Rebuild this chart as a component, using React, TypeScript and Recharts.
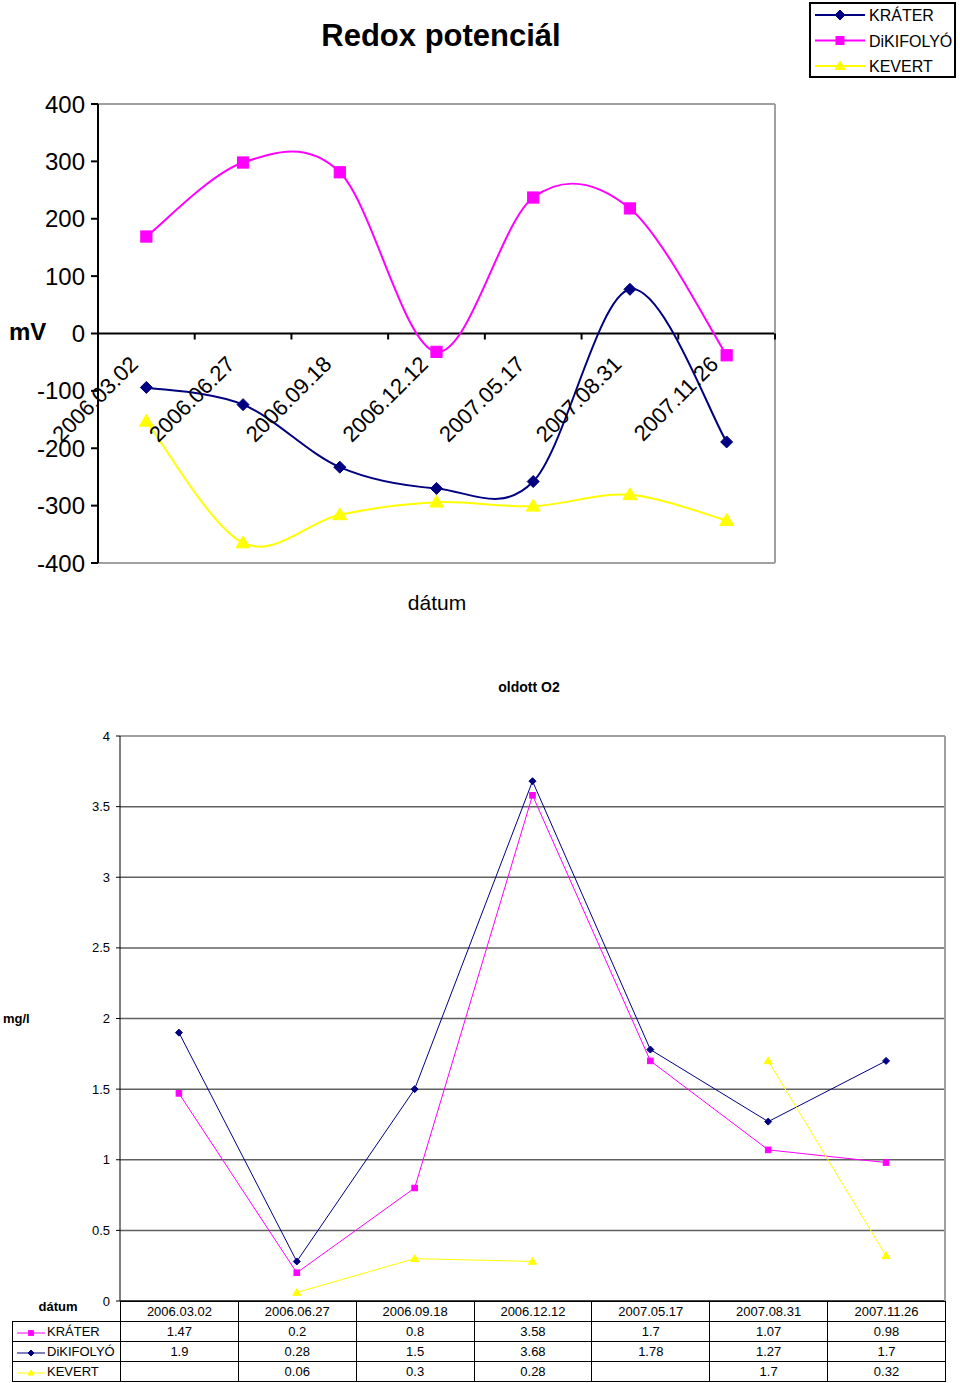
import React from 'react';
import { LineChart, Line, XAxis, YAxis, ReferenceLine, CartesianGrid, Legend } from 'recharts';

const DATES = ['2006.03.02', '2006.06.27', '2006.09.18', '2006.12.12', '2007.05.17', '2007.08.31', '2007.11.26'];

// Redox potenciál, mV
const REDOX_KRATER = [-94, -124, -233, -270, -258, 77, -189];
const REDOX_DIKIFOLYO = [169, 298, 281, -32, 237, 218, -38];
const REDOX_KEVERT = [-153, -365, -316, -294, -301, -281, -326];
const REDOX_TICKS = [-400, -300, -200, -100, 0, 100, 200, 300, 400];

// oldott O2, mg/l
const O2_KRATER = [1.47, 0.2, 0.8, 3.58, 1.7, 1.07, 0.98];
const O2_DIKIFOLYO = [1.9, 0.28, 1.5, 3.68, 1.78, 1.27, 1.7];
const O2_KEVERT: (number | null)[] = [null, 0.06, 0.3, 0.28, null, 1.7, 0.32];
const O2_TICKS = [0, 0.5, 1, 1.5, 2, 2.5, 3, 3.5, 4];

const NAVY = '#000080';
const MAGENTA = '#FF00FF';
const YELLOW = '#FFFF00';
const BORDER = '#a0a0a0';
const FONT = '"Liberation Sans", Arial, sans-serif';

const redoxData = DATES.map((date, i) => ({
  date,
  krater: REDOX_KRATER[i],
  dikifolyo: REDOX_DIKIFOLYO[i],
  kevert: REDOX_KEVERT[i],
}));

const o2Data = DATES.map((date, i) => ({
  date,
  krater: O2_KRATER[i],
  dikifolyo: O2_DIKIFOLYO[i],
  kevert: O2_KEVERT[i],
}));

// top chart plot box
const R_LEFT = 98;
const R_RIGHT = 775;
const R_TOP = 104;
const R_BOTTOM = 563;
const R_ZERO = (R_TOP + R_BOTTOM) / 2;
const R_BAND = (R_RIGHT - R_LEFT) / DATES.length;

// bottom chart plot box
const O_LEFT = 120;
const O_RIGHT = 945;
const O_BAND = (O_RIGHT - O_LEFT) / DATES.length;

// Excel-like smoothing (Catmull-Rom through the points)
function smoothCurve(context: any) {
  let pts: number[][] = [];
  return {
    areaStart() {},
    areaEnd() {},
    lineStart() {
      pts = [];
    },
    point(x: number, y: number) {
      pts.push([+x, +y]);
    },
    lineEnd() {
      if (!pts.length) return;
      context.moveTo(pts[0][0], pts[0][1]);
      for (let i = 0; i < pts.length - 1; i++) {
        const p0 = pts[i - 1] || pts[i];
        const p1 = pts[i];
        const p2 = pts[i + 1];
        const p3 = pts[i + 2] || p2;
        context.bezierCurveTo(
          p1[0] + (p2[0] - p0[0]) / 6,
          p1[1] + (p2[1] - p0[1]) / 6,
          p2[0] - (p3[0] - p1[0]) / 6,
          p2[1] - (p3[1] - p1[1]) / 6,
          p2[0],
          p2[1],
        );
      }
    },
  };
}

function marker(shape: string, color: string, cx: number, cy: number, r: number, key?: string) {
  if (shape === 'diamond') {
    return <path key={key} d={`M${cx},${cy - r}L${cx + r},${cy}L${cx},${cy + r}L${cx - r},${cy}Z`} fill={color} stroke={color} />;
  }
  if (shape === 'square') {
    return <rect key={key} x={cx - r * 0.8} y={cy - r * 0.8} width={r * 1.6} height={r * 1.6} fill={color} stroke={color} />;
  }
  return <path key={key} d={`M${cx},${cy - r}L${cx + r},${cy + r * 0.7}L${cx - r},${cy + r * 0.7}Z`} fill={color} stroke={color} />;
}

function makeDot(shape: string, color: string, r: number) {
  return (props: any) => {
    const { cx, cy, index, value } = props;
    if (cx == null || cy == null || value == null) return <g key={`d-${index}`} />;
    return marker(shape, color, cx, cy, r, `d-${index}`);
  };
}

function RedoxTick(props: any) {
  const { x, payload, index } = props;
  const tx = x - 7;
  const ty = R_ZERO + 32;
  return (
    <g>
      <line x1={x - R_BAND / 2} x2={x - R_BAND / 2} y1={R_ZERO} y2={R_ZERO + 6} stroke="#000" strokeWidth={2} />
      {index === DATES.length - 1 && (
        <line x1={x + R_BAND / 2} x2={x + R_BAND / 2} y1={R_ZERO} y2={R_ZERO + 6} stroke="#000" strokeWidth={2} />
      )}
      <text x={tx} y={ty} transform={`rotate(-45 ${tx} ${ty})`} textAnchor="end" fontSize={22} fill="#000" fontFamily={FONT}>
        {payload.value}
      </text>
    </g>
  );
}

const REDOX_LEGEND = [
  { name: 'KRÁTER', color: NAVY, shape: 'diamond' },
  { name: 'DiKIFOLYÓ', color: MAGENTA, shape: 'square' },
  { name: 'KEVERT', color: YELLOW, shape: 'triangle' },
];

function RedoxLegend() {
  return (
    <svg width={147} height={76} style={{ display: 'block' }}>
      <rect x={1} y={1} width={145} height={74} fill="#fff" stroke="#000" strokeWidth={2} />
      {REDOX_LEGEND.map((s, i) => {
        const y = 13 + i * 25.5;
        return (
          <g key={s.name}>
            <line x1={6} x2={56} y1={y} y2={y} stroke={s.color} strokeWidth={2} />
            {marker(s.shape, s.color, 31, y, 5)}
            <text x={60} y={y + 6} fontSize={16} fontFamily={FONT} fill="#000">
              {s.name}
            </text>
          </g>
        );
      })}
    </svg>
  );
}

const O2_ROWS = [
  { name: 'KRÁTER', color: MAGENTA, shape: 'square', values: O2_KRATER },
  { name: 'DiKIFOLYÓ', color: NAVY, shape: 'diamond', values: O2_DIKIFOLYO },
  { name: 'KEVERT', color: YELLOW, shape: 'triangle', values: O2_KEVERT },
];

const cell: React.CSSProperties = {
  border: '1px solid #000',
  height: 19,
  padding: 0,
  textAlign: 'center',
  fontSize: 13,
  lineHeight: '19px',
  fontFamily: FONT,
};

function O2Table() {
  return (
    <table style={{ position: 'absolute', left: 12, top: 1301, borderCollapse: 'collapse', tableLayout: 'fixed', width: 933 }}>
      <colgroup>
        <col style={{ width: 108 }} />
        {DATES.map((d) => (
          <col key={d} style={{ width: O_BAND }} />
        ))}
      </colgroup>
      <tbody>
        <tr>
          <td style={{ ...cell, border: 'none', borderRight: '1px solid #000', fontWeight: 'bold', textAlign: 'left', paddingLeft: 26, verticalAlign: 'top', lineHeight: '10px' }}>
            dátum
          </td>
          {DATES.map((d) => (
            <td key={d} style={cell}>
              {d}
            </td>
          ))}
        </tr>
        {O2_ROWS.map((row) => (
          <tr key={row.name}>
            <td style={{ ...cell, textAlign: 'left' }}>
              <svg width={32} height={10} style={{ verticalAlign: 'middle', marginLeft: 2 }}>
                <line x1={2} x2={30} y1={5} y2={5} stroke={row.color} strokeWidth={1} />
                {marker(row.shape, row.color, 16, 5, 3)}
              </svg>
              <span style={{ fontSize: 13 }}>{row.name}</span>
            </td>
            {row.values.map((v, i) => (
              <td key={i} style={cell}>
                {v == null ? '' : v}
              </td>
            ))}
          </tr>
        ))}
      </tbody>
    </table>
  );
}

export default function App() {
  return (
    <div style={{ position: 'absolute', left: 0, top: 0, width: 960, height: 1383, background: '#fff', fontFamily: FONT }}>
      {/* Redox potenciál */}
      <div style={{ position: 'absolute', left: 0, top: 0 }}>
        <LineChart width={960} height={640} data={redoxData} margin={{ top: R_TOP, right: 960 - R_RIGHT - 1, bottom: 640 - R_BOTTOM - 30, left: R_LEFT - 60 }}>
          <XAxis
            dataKey="date"
            height={30}
            interval={0}
            padding={{ left: R_BAND / 2, right: R_BAND / 2 }}
            axisLine={{ stroke: BORDER, strokeWidth: 2 }}
            tickLine={false}
            tick={<RedoxTick />}
          />
          <YAxis
            width={60}
            domain={[-400, 400]}
            ticks={REDOX_TICKS}
            interval={0}
            tickSize={7}
            tickMargin={6}
            axisLine={{ stroke: '#000', strokeWidth: 2 }}
            tickLine={{ stroke: '#000', strokeWidth: 2 }}
            tick={{ fontSize: 24, fill: '#000', fontFamily: FONT }}
          />
          <YAxis yAxisId="border" orientation="right" width={1} domain={[-400, 400]} tick={false} tickLine={false} axisLine={{ stroke: BORDER, strokeWidth: 2 }} />
          <ReferenceLine y={400} stroke={BORDER} strokeWidth={2} />
          <ReferenceLine y={0} stroke="#000" strokeWidth={2} />
          <Legend
            layout="vertical"
            align="center"
            verticalAlign="middle"
            wrapperStyle={{ left: 809, top: 2, width: 147, height: 76 }}
            content={() => <RedoxLegend />}
          />
          <Line dataKey="krater" name="KRÁTER" stroke={NAVY} strokeWidth={2} type={smoothCurve as any} dot={makeDot('diamond', NAVY, 6)} isAnimationActive={false} />
          <Line dataKey="dikifolyo" name="DiKIFOLYÓ" stroke={MAGENTA} strokeWidth={2} type={smoothCurve as any} dot={makeDot('square', MAGENTA, 7)} isAnimationActive={false} />
          <Line dataKey="kevert" name="KEVERT" stroke={YELLOW} strokeWidth={2} type={smoothCurve as any} dot={makeDot('triangle', YELLOW, 7)} isAnimationActive={false} />
        </LineChart>
      </div>
      <div style={{ position: 'absolute', left: 0, width: 882, top: 18, textAlign: 'center', fontSize: 31, fontWeight: 'bold' }}>Redox potenciál</div>
      <div style={{ position: 'absolute', left: 9, top: 318, fontSize: 24, fontWeight: 'bold' }}>mV</div>
      <div style={{ position: 'absolute', left: 0, width: 874, top: 591, textAlign: 'center', fontSize: 21 }}>dátum</div>

      {/* oldott O2 */}
      <div style={{ position: 'absolute', left: 0, top: 680 }}>
        <LineChart width={960} height={703} data={o2Data} margin={{ top: 56, right: 960 - O_RIGHT - 1, bottom: 81, left: O_LEFT - 50 }}>
          <CartesianGrid vertical={false} stroke="#606060" strokeWidth={1.5} />
          <XAxis
            dataKey="date"
            height={1}
            padding={{ left: O_BAND / 2, right: O_BAND / 2 }}
            tick={false}
            tickLine={false}
            axisLine={{ stroke: '#000' }}
          />
          <YAxis
            width={50}
            domain={[0, 4]}
            ticks={O2_TICKS}
            interval={0}
            tickSize={4}
            tickMargin={6}
            axisLine={{ stroke: '#000' }}
            tickLine={{ stroke: '#000' }}
            tick={{ fontSize: 13, fill: '#000', fontFamily: FONT }}
          />
          <YAxis yAxisId="border" orientation="right" width={1} domain={[0, 4]} tick={false} tickLine={false} axisLine={{ stroke: BORDER, strokeWidth: 2 }} />
          <ReferenceLine y={4} stroke={BORDER} strokeWidth={2} />
          <Line dataKey="krater" name="KRÁTER" stroke={MAGENTA} strokeWidth={1} type="linear" dot={makeDot('square', MAGENTA, 3.5)} isAnimationActive={false} />
          <Line dataKey="dikifolyo" name="DiKIFOLYÓ" stroke={NAVY} strokeWidth={1} type="linear" dot={makeDot('diamond', NAVY, 3.5)} isAnimationActive={false} />
          <Line dataKey="kevert" name="KEVERT" stroke={YELLOW} strokeWidth={1} type="linear" connectNulls={false} dot={makeDot('triangle', YELLOW, 4)} isAnimationActive={false} />
        </LineChart>
      </div>
      <div style={{ position: 'absolute', left: 0, width: 1058, top: 679, textAlign: 'center', fontSize: 14, fontWeight: 'bold' }}>oldott O2</div>
      <div style={{ position: 'absolute', left: 3, top: 1011, fontSize: 13, fontWeight: 'bold' }}>mg/l</div>
      <O2Table />
    </div>
  );
}
